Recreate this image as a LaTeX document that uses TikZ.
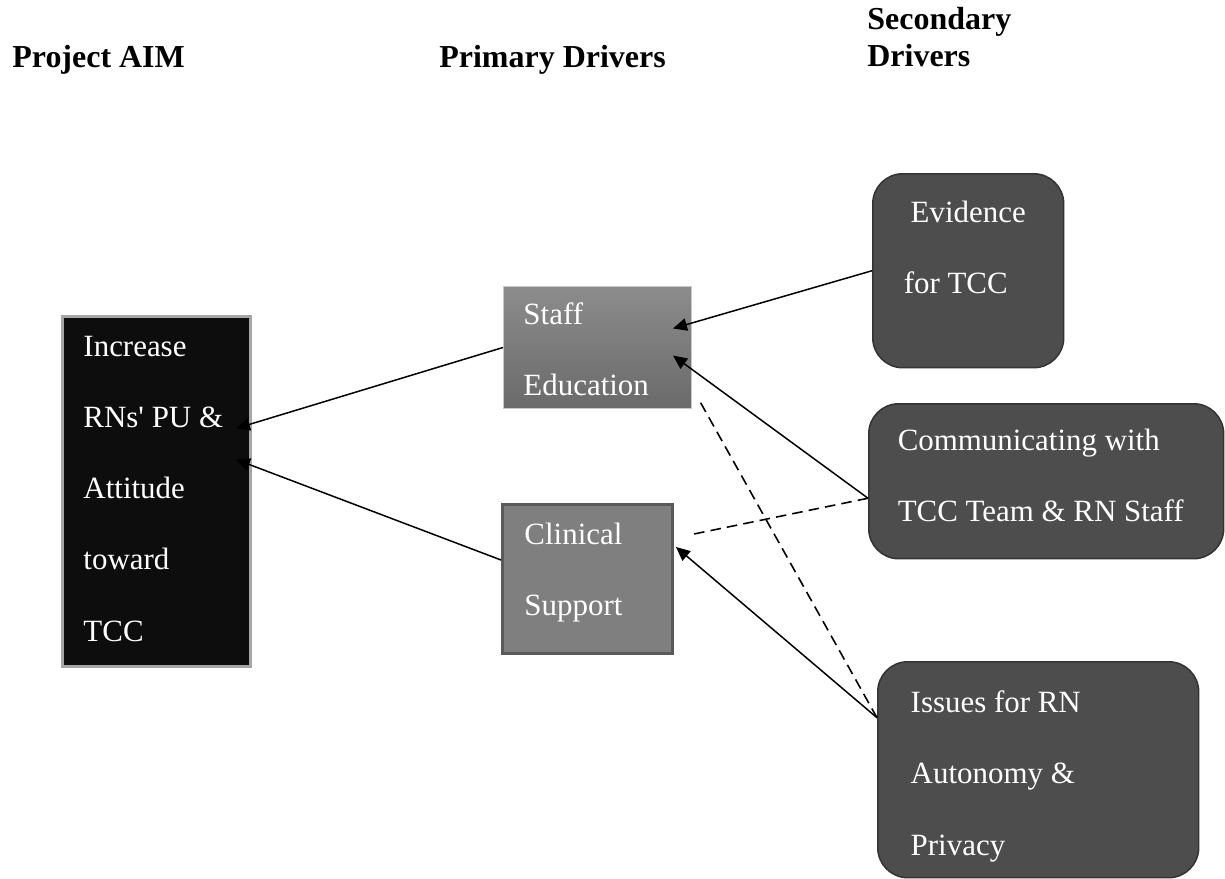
\documentclass[tikz,border=0pt]{standalone}
\usepackage{fontspec}
\setmainfont{Liberation Serif}
\usetikzlibrary{arrows.meta,calc,positioning}
\usepackage{xcolor}
\definecolor{aimfill}{HTML}{0D0D0D}
\definecolor{aimline}{HTML}{A6A6A6}
\definecolor{stafftop}{HTML}{8C8C8C}
\definecolor{staffbot}{HTML}{6A6A6A}
\definecolor{staffline}{HTML}{C8C8C8}
\definecolor{clinfill}{HTML}{7F7F7F}
\definecolor{clinline}{HTML}{5A5A5A}
\definecolor{secfill}{HTML}{4D4D4D}
\definecolor{secline}{HTML}{333333}

\begin{document}
\begin{tikzpicture}[
    x=0.02cm, y=-0.02cm,
    title/.style={anchor=base west, inner sep=0pt, text width=6cm, align=flush left, font=\fontsize{18.2}{21}\selectfont\bfseries},
    boxtext/.style={anchor=north west, inner ysep=0pt, align=flush left, text=white, font=\fontsize{17.6}{40.5}\selectfont},
    aimbox/.style={boxtext, rectangle, draw=aimline, fill=aimfill, line width=0.06cm},
    staffbox/.style={boxtext, rectangle, draw=staffline, top color=stafftop, bottom color=staffbot, line width=0.02cm},
    clinbox/.style={boxtext, rectangle, draw=clinline, fill=clinfill, line width=0.06cm},
    secbox/.style={boxtext, rectangle, rounded corners=0.6cm, draw=secline, fill=secfill, line width=0.03cm},
    arrow/.style={line width=0.85pt, -{Triangle[length=0.28cm, width=0.25cm]}},
    dashline/.style={line width=0.9pt, dash pattern=on 6pt off 3.5pt}
]
\useasboundingbox (0,0) rectangle (1225,879);

\node (t_aim) [title] at (12,68) {Project AIM};
\node (t_prim) [title] at (439,68) {Primary Drivers};
\node (t_sec) [title] at (867,30) {Secondary\\Drivers};

\node (aim) [aimbox, inner xsep=0.42cm, text width=2.92cm, text height=0.8cm, text depth=6.2cm] at (61,315) {Increase\\RNs\textquotesingle{} PU \&\\Attitude\\toward\\TCC};
\node (staff) [staffbox, inner xsep=0.4cm, text width=2.96cm, text height=0.76cm, text depth=1.68cm] at (503,286) {Staff\\Education};
\node (clin) [clinbox, inner xsep=0.44cm, text width=2.52cm, text height=0.8cm, text depth=2.18cm] at (501,503) {Clinical\\Support};
\node (evid) [secbox, inner xsep=0.62cm, text width=2.58cm, text height=0.98cm, text depth=2.9cm] at (872,173) {\hspace*{0.14cm}Evidence\\for TCC};
\node (comm) [secbox, inner xsep=0.58cm, text width=5.94cm, text height=0.94cm, text depth=2.16cm] at (868,403) {Communicating with\\TCC Team \& RN Staff};
\node (issue) [secbox, inner xsep=0.66cm, text width=5.1cm, text height=1.02cm, text depth=3.3cm] at (877,661) {Issues for RN\\Autonomy \&\\Privacy};

\draw[arrow] (staff.west) -- ($(aim.east)+(-16,-63)$);
\draw[arrow] ($(clin.west)+(0,-19)$) -- ($(aim.east)+(-16,-32)$);
\draw[arrow] (evid.west) -- ($(staff.east)+(-19,-19)$);
\draw[arrow] ($(comm.west)+(0,17)$) -- ($(staff.east)+(-19,8)$);
\draw[dashline] ($(comm.west)+(0,17)$) -- ($(clin.east)+(20,-45)$);
\draw[arrow] ($(issue.west)+(0,-52)$) -- ($(clin.east)+(2,-32)$);
\draw[dashline] ($(issue.west)+(0,-52)$) -- ($(staff.south east)+(6,-11)$);

\end{tikzpicture}
\end{document}
